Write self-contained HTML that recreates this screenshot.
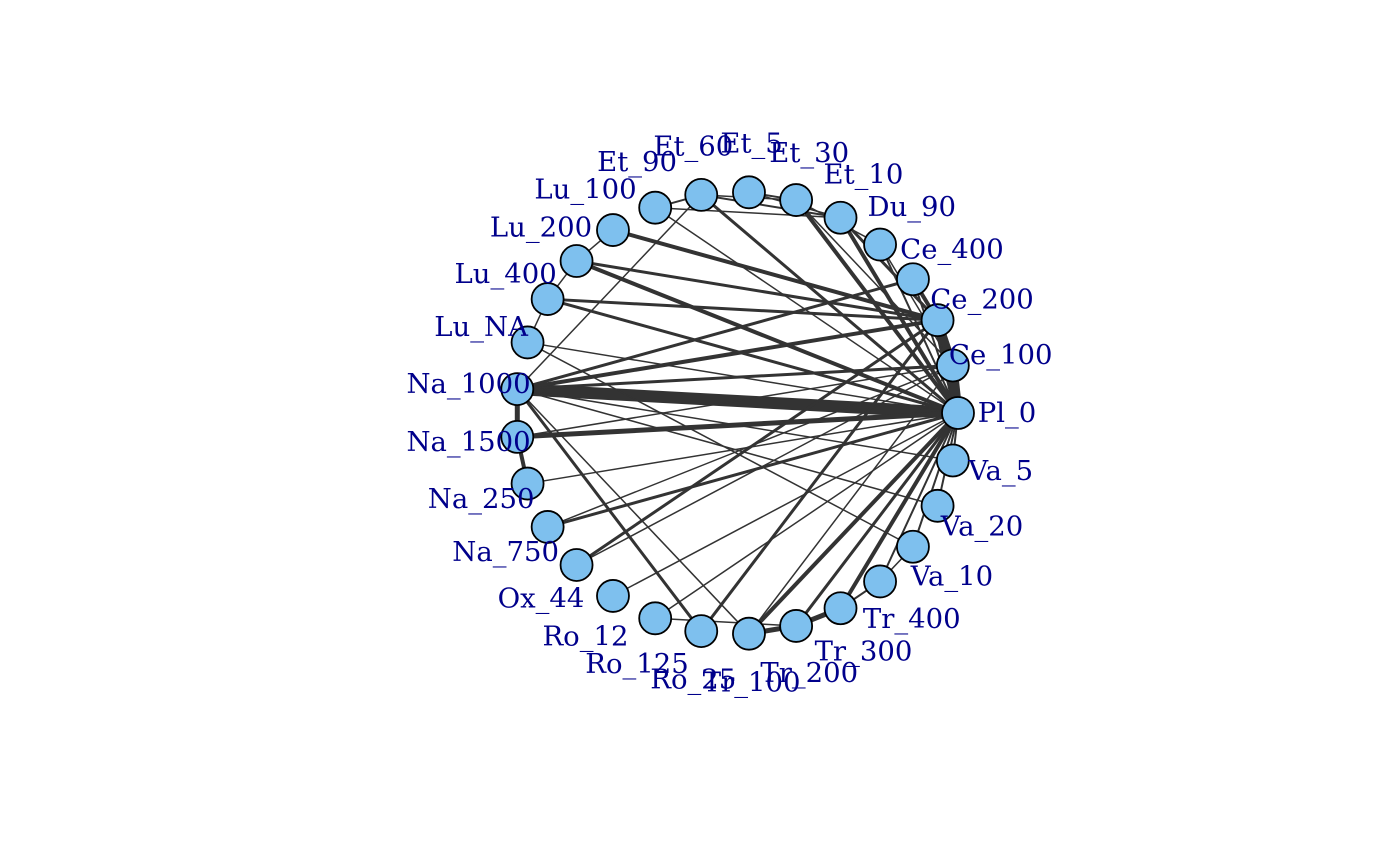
<!DOCTYPE html>
<html><head><meta charset="utf-8"><style>
html,body{margin:0;padding:0;background:#fff;width:1400px;height:866px;overflow:hidden}
svg text{font-family:"DejaVu Serif","Liberation Serif",serif;font-size:27.5px;fill:#00008B}
</style></head><body>
<svg id="net" width="1400" height="866" xmlns="http://www.w3.org/2000/svg">
<g id="edges"></g>
<g id="nodes"></g>
<g id="labels"></g>
</svg>
<script>
const nodeNames = ["Pl_0","Ce_100","Ce_200","Ce_400","Du_90","Et_10","Et_30","Et_5","Et_60","Et_90","Lu_100","Lu_200","Lu_400","Lu_NA","Na_1000","Na_1500","Na_250","Na_750","Ox_44","Ro_12","Ro_125","Ro_25","Tr_100","Tr_200","Tr_300","Tr_400","Va_10","Va_20","Va_5"];
const edgeFrom = ["Na_1000","Ce_200","Ce_100","Ce_100","Na_1500","Na_1000","Na_1000","Na_1000","Lu_100","Lu_200","Lu_200","Lu_400","Lu_400","Lu_NA","Na_750","Na_250","Ox_44","Ox_44","Ro_25","Ro_25","Tr_100","Tr_200","Tr_300","Tr_100","Tr_200","Et_30","Et_10","Et_60","Et_60","Et_90","Et_5","Na_1000","Na_1500","Lu_NA","Lu_400","Lu_200","Et_90","Et_60","Et_5","Et_30","Et_10","Du_90","Ce_400","Ce_400","Va_5","Va_20","Va_10","Tr_400","Tr_300","Na_1000","Na_1000","Na_1000","Na_1000","Ro_12","Ro_125","Et_90","Tr_100","Na_750","Lu_NA","Na_1500","Na_1000","Du_90","Et_30","Ro_125","Tr_400"];
const edgeTo = ["Pl_0","Pl_0","Pl_0","Ce_200","Pl_0","Ce_200","Ce_100","Ce_400","Ce_200","Pl_0","Ce_200","Ce_200","Pl_0","Pl_0","Pl_0","Pl_0","Ce_200","Ce_100","Ce_200","Na_1000","Pl_0","Pl_0","Pl_0","Tr_200","Tr_300","Pl_0","Pl_0","Pl_0","Et_10","Et_60","Et_30","Na_1500","Na_250","Lu_400","Lu_200","Lu_100","Et_10","Et_30","Et_10","Du_90","Ce_200","Pl_0","Ce_200","Pl_0","Pl_0","Pl_0","Pl_0","Pl_0","Tr_400","Va_5","Va_20","Tr_100","Ce_100","Pl_0","Pl_0","Pl_0","Ce_100","Ce_100","Va_10","Ce_100","Et_60","Ce_100","Ce_100","Tr_200","Va_10"];
const edgeWeight = [12,9,9,8,5,4,3,3,4,4,3,3,3,1.5,3,1.5,3,1.5,3,3,4,3,4,5,5,4,4,3,2,2,2,5,4,1.5,1.5,1.5,1.5,1.5,1.5,1.5,3,2,4,2,2,2,2,2,2,1.5,1.5,1.5,1.5,1.5,1.5,1.5,1.5,1.5,1.5,1.5,1.5,1.5,1.5,1.5,1.5];

const cx = 737, cy = 413, R = 221, labelR = 270;
const ns = "http://www.w3.org/2000/svg";
function pos(name, r) {
  const i = nodeNames.indexOf(name);
  const a = i * 2 * Math.PI / nodeNames.length;
  return [cx + r * Math.cos(a), cy - r * Math.sin(a)];
}
const eg = document.getElementById('edges');
for (let k = 0; k < edgeFrom.length; k++) {
  const p = pos(edgeFrom[k], R), q = pos(edgeTo[k], R);
  const l = document.createElementNS(ns, 'line');
  l.setAttribute('x1', p[0]); l.setAttribute('y1', p[1]);
  l.setAttribute('x2', q[0]); l.setAttribute('y2', q[1]);
  l.setAttribute('stroke', '#333333');
  l.setAttribute('stroke-width', edgeWeight[k]);
  
  
  eg.appendChild(l);
}
const ng = document.getElementById('nodes'), lg = document.getElementById('labels');
nodeNames.forEach(n => {
  const p = pos(n, R);
  const c = document.createElementNS(ns, 'circle');
  c.setAttribute('cx', p[0]); c.setAttribute('cy', p[1]); c.setAttribute('r', 16);
  c.setAttribute('fill', '#7EC0EE'); c.setAttribute('stroke', '#000'); c.setAttribute('stroke-width', 1.8);
  
  
  ng.appendChild(c);
  const lp = pos(n, labelR);
  const t = document.createElementNS(ns, 'text');
  t.setAttribute('x', lp[0]); t.setAttribute('y', lp[1] + 9);
  t.setAttribute('text-anchor', 'middle');
  t.textContent = n;
  
  
  lg.appendChild(t);
});
</script>
</body></html>
